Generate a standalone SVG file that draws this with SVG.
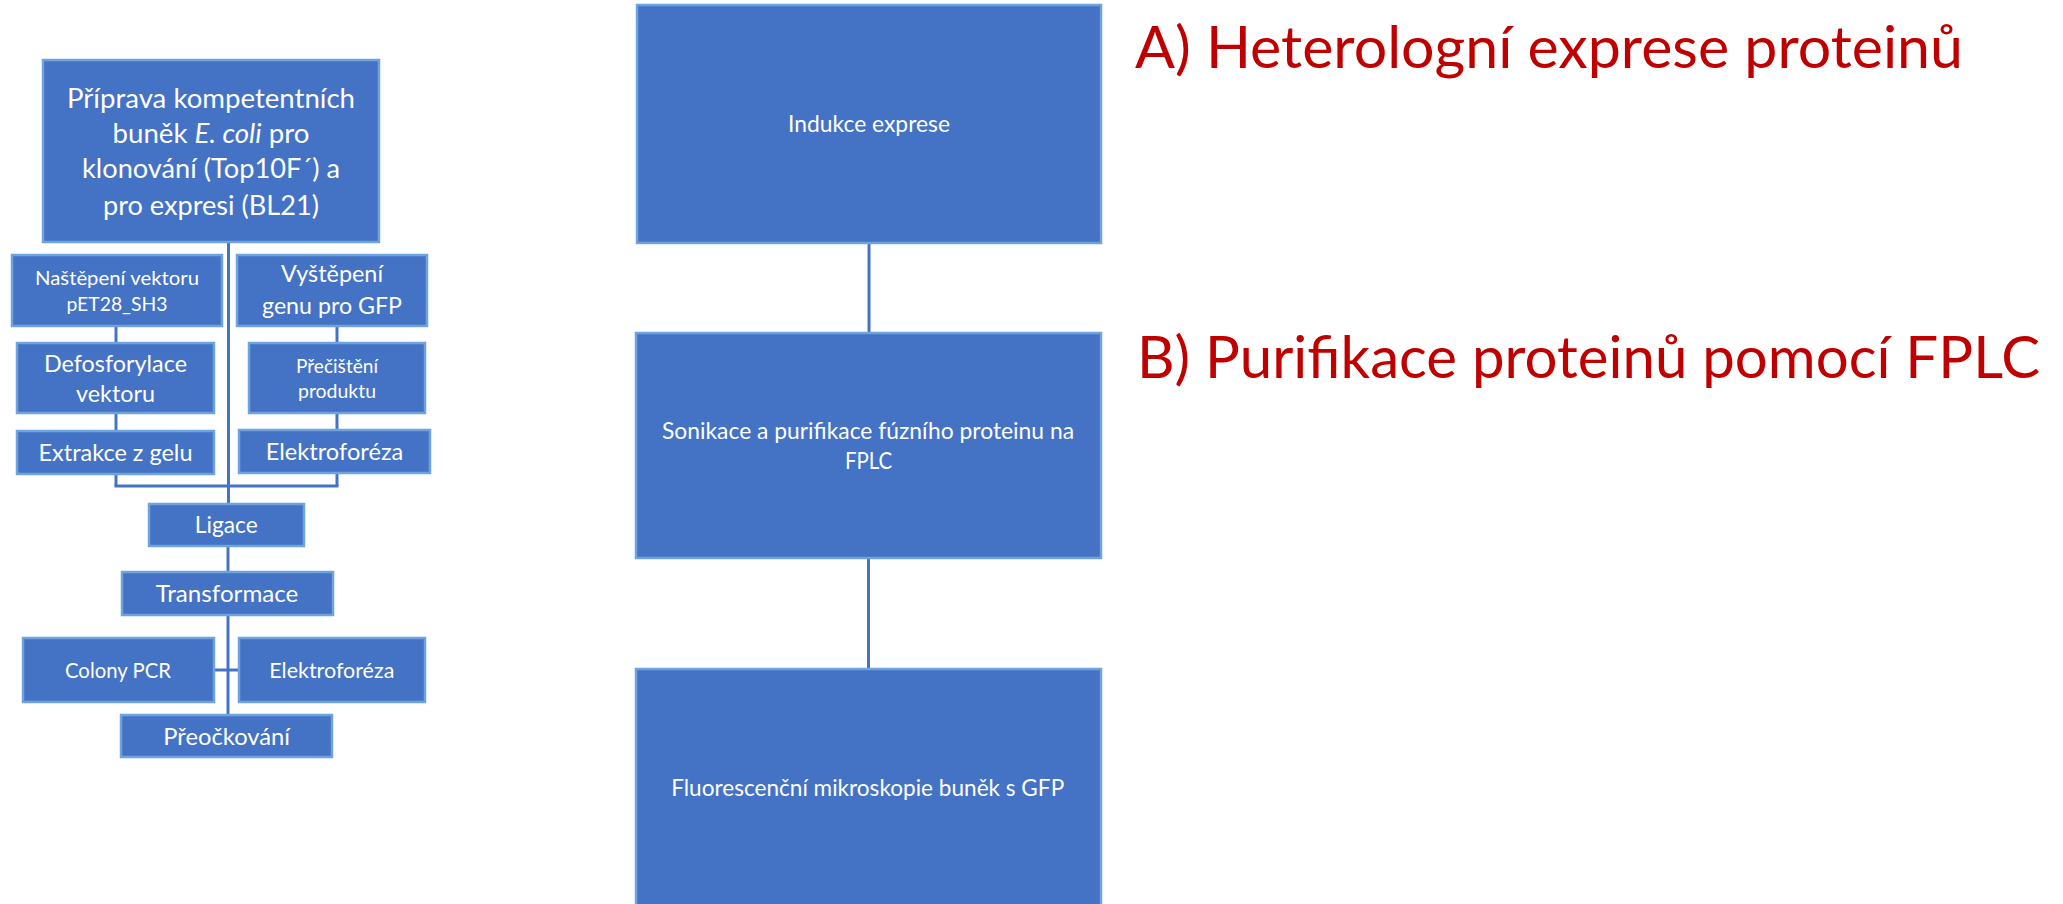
<svg xmlns="http://www.w3.org/2000/svg" width="2063" height="904" viewBox="0 0 2063 904">
<style>
.box{fill:#4472C4;stroke:#6FA3DE;stroke-width:2.5}
.t{fill:#ffffff;font-family:Lato,"Open Sans","Liberation Sans",sans-serif;text-anchor:middle}
.c{stroke:#4472C4;stroke-width:3;fill:none}
.title{fill:#C00000;font-family:Lato,"Open Sans","Liberation Sans",sans-serif;font-size:58px}
</style>
<rect width="2063" height="904" fill="#ffffff"/>
<g id="connectors">
<line class="c" x1="228.5" y1="242" x2="228.5" y2="504"/>
<line class="c" x1="116" y1="326" x2="116" y2="343"/>
<line class="c" x1="116" y1="413" x2="116" y2="431"/>
<line class="c" x1="116" y1="474" x2="116" y2="486"/>
<line class="c" x1="337" y1="326" x2="337" y2="343"/>
<line class="c" x1="337" y1="413" x2="337" y2="430"/>
<line class="c" x1="337" y1="473" x2="337" y2="486"/>
<polyline class="c" points="114.5,486 338.5,486"/>
<line class="c" x1="228" y1="546" x2="228" y2="572"/>
<line class="c" x1="228" y1="615" x2="228" y2="715"/>
<line class="c" x1="214" y1="670" x2="239" y2="670"/>
<line class="c" x1="869" y1="243" x2="869" y2="333"/>
<line class="c" x1="868.5" y1="558" x2="868.5" y2="669"/>
</g>
<g id="n-priprava">
<rect class="box" x="43" y="60" width="336" height="182"/>
<text class="t" font-size="27"><tspan x="211" y="107.7" textLength="288" lengthAdjust="spacingAndGlyphs">Příprava kompetentních</tspan><tspan x="211" y="143.3" textLength="197" lengthAdjust="spacingAndGlyphs">buněk <tspan font-style="italic">E. coli</tspan> pro</tspan><tspan x="211" y="178.3" textLength="258" lengthAdjust="spacingAndGlyphs">klonování (Top10F´) a</tspan><tspan x="211" y="215" textLength="216" lengthAdjust="spacingAndGlyphs">pro expresi (BL21)</tspan></text>
</g>
<g id="n-nastepeni">
<rect class="box" x="12" y="255" width="210" height="71"/>
<text class="t" font-size="20"><tspan x="117" y="285" textLength="164" lengthAdjust="spacingAndGlyphs">Naštěpení vektoru</tspan><tspan x="117" y="310.7" textLength="101" lengthAdjust="spacingAndGlyphs">pET28_SH3</tspan></text>
</g>
<g id="n-vystepeni">
<rect class="box" x="237" y="255" width="190" height="71"/>
<text class="t" font-size="23.5"><tspan x="332" y="282.3" textLength="102" lengthAdjust="spacingAndGlyphs">Vyštěpení</tspan><tspan x="332" y="314" textLength="140" lengthAdjust="spacingAndGlyphs">genu pro GFP</tspan></text>
</g>
<g id="n-defosforylace">
<rect class="box" x="17" y="343" width="197" height="70"/>
<text class="t" font-size="23.5"><tspan x="115.5" y="371.7" textLength="143" lengthAdjust="spacingAndGlyphs">Defosforylace</tspan><tspan x="115.5" y="401.7" textLength="79" lengthAdjust="spacingAndGlyphs">vektoru</tspan></text>
</g>
<g id="n-preciSteni">
<rect class="box" x="249" y="343" width="176" height="70"/>
<text class="t" font-size="18.5"><tspan x="337" y="373.3" textLength="82" lengthAdjust="spacingAndGlyphs">Přečištění</tspan><tspan x="337" y="398.3" textLength="78" lengthAdjust="spacingAndGlyphs">produktu</tspan></text>
</g>
<g id="n-extrakce">
<rect class="box" x="17" y="431" width="197" height="43"/>
<text class="t" font-size="23.5" x="115.5" y="460.7" textLength="154" lengthAdjust="spacingAndGlyphs">Extrakce z gelu</text>
</g>
<g id="n-elektroforeza1">
<rect class="box" x="239" y="430" width="191" height="43"/>
<text class="t" font-size="23.5" x="334.5" y="460" textLength="137.7" lengthAdjust="spacingAndGlyphs">Elektroforéza</text>
</g>
<g id="n-ligace">
<rect class="box" x="149" y="504" width="155" height="42"/>
<text class="t" font-size="23.5" x="226.3" y="533.3" textLength="63" lengthAdjust="spacingAndGlyphs">Ligace</text>
</g>
<g id="n-transformace">
<rect class="box" x="122" y="572" width="211" height="43"/>
<text class="t" font-size="23.5" x="227" y="601.7" textLength="142.7" lengthAdjust="spacingAndGlyphs">Transformace</text>
</g>
<g id="n-colony">
<rect class="box" x="23" y="638" width="191" height="64"/>
<text class="t" font-size="21.3" x="118" y="678.3" textLength="106" lengthAdjust="spacingAndGlyphs">Colony PCR</text>
</g>
<g id="n-elektroforeza2">
<rect class="box" x="239" y="638" width="186" height="64"/>
<text class="t" font-size="21.3" x="331.8" y="678.3" textLength="125" lengthAdjust="spacingAndGlyphs">Elektroforéza</text>
</g>
<g id="n-preockovani">
<rect class="box" x="121" y="715" width="211" height="42"/>
<text class="t" font-size="23.5" x="226.7" y="745" textLength="126.7" lengthAdjust="spacingAndGlyphs">Přeočkování</text>
</g>
<g id="n-indukce">
<rect class="box" x="637" y="5" width="464" height="238"/>
<text class="t" font-size="22.2" x="869" y="132" textLength="162" lengthAdjust="spacingAndGlyphs">Indukce exprese</text>
</g>
<g id="n-sonikace">
<rect class="box" x="636" y="333" width="465" height="225"/>
<text class="t" font-size="22.2"><tspan x="868" y="439.3" textLength="412" lengthAdjust="spacingAndGlyphs">Sonikace a purifikace fúzního proteinu na</tspan><tspan x="868.6" y="469.3" textLength="47.3" lengthAdjust="spacingAndGlyphs">FPLC</tspan></text>
</g>
<g id="n-fluorescence">
<rect class="box" x="636" y="669" width="465" height="240"/>
<text class="t" font-size="22.2" x="867.7" y="796" textLength="393" lengthAdjust="spacingAndGlyphs">Fluorescenční mikroskopie buněk s GFP</text>
</g>
<g id="titles">
<text class="title" x="1135" y="68" textLength="828" lengthAdjust="spacingAndGlyphs">A) Heterologní exprese proteinů</text>
<text class="title" x="1137" y="378" textLength="903" lengthAdjust="spacingAndGlyphs">B) Purifikace proteinů pomocí FPLC</text>
</g>
</svg>
